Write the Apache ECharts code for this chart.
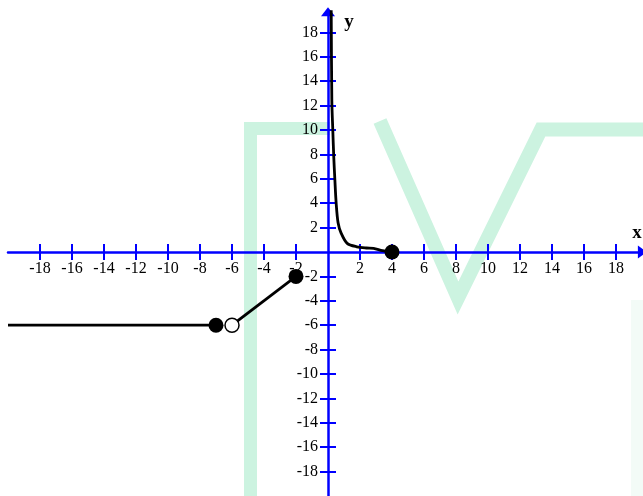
<!DOCTYPE html>
<html>
<head>
<meta charset="utf-8">
<script src="https://cdn.jsdelivr.net/npm/echarts@6/dist/echarts.min.js"></script>
<style>
html,body{margin:0;padding:0;background:#fff;}
#c{width:643px;height:496px;}
</style>
</head>
<body>
<div id="c"></div>
<script>
// ---- data ----
const xTicks = [-18,-16,-14,-12,-10,-8,-6,-4,-2,2,4,6,8,10,12,14,16,18];
const yTicks = [-18,-16,-14,-12,-10,-8,-6,-4,-2,2,4,6,8,10,12,14,16,18];
const horizSeg = [[-20,-6],[-7,-6]];
const slantSeg = [[-6,-6],[-2,-2]];
const curvePts = [[0.2,20],[0.24,12.4],[0.3,10],[0.36,7.8],[0.43,5.9],[0.51,4.0],[0.63,2.4],[0.82,1.55],[1.2,0.71],[1.8,0.43],[2.4,0.33],[2.85,0.3],[3.4,0.12],[4,0]];
const closedDots = [[-7,-6],[-2,-2],[4,0]];
const openDots = [[-6,-6]];

const FONT = "'Liberation Serif','Times New Roman',serif";
const BLUE = '#0000ff';
const WM = '#ccf3e0';

// layout
const W = 643, H = 496;
const G = {left:8, right:0.6, top:11.7, bottom:0};
const X_MIN = -20, X_MAX = 19.65, Y_MIN = -20, Y_MAX = 19.7;
const gw = W - G.left - G.right, gh = H - G.top - G.bottom;
const x0 = G.left + (0 - X_MIN) / (X_MAX - X_MIN) * gw;   // pixel of x = 0
const y0 = G.top + (Y_MAX - 0) / (Y_MAX - Y_MIN) * gh;    // pixel of y = 0

const chart = echarts.init(document.getElementById('c'), null, {renderer:'canvas'});

function labelFmt(list){
  return function(v){
    const r = Math.round(v);
    return list.indexOf(r) >= 0 && Math.abs(v - r) < 1e-6 ? String(r) : '';
  };
}

function xAxisCfg(main){
  return {
    type:'value', min:X_MIN, max:X_MAX, interval:2, gridIndex:0,
    position: main ? 'bottom' : 'top',
    offset: main ? -(H - G.bottom - y0) : -(y0 - G.top),
    axisLine:{show:main, onZero:false, lineStyle:{color:BLUE,width:2.5},
      symbol:['none','triangle'], symbolSize:[13,9]},
    axisTick:{show:true, inside:false, length:8, customValues:xTicks, lineStyle:{color:BLUE,width:2}},
    axisLabel:{show:main, margin:9, color:'#000', fontFamily:FONT, fontSize:16,
      showMinLabel:false, showMaxLabel:false, hideOverlap:false, formatter:labelFmt(xTicks)},
    splitLine:{show:false}
  };
}
function yAxisCfg(main){
  return {
    type:'value', min:Y_MIN, max:Y_MAX, interval:2, gridIndex:0,
    position: main ? 'left' : 'right',
    offset: main ? -(x0 - G.left) : -(W - G.right - x0),
    axisLine:{show:main, onZero:false, lineStyle:{color:BLUE,width:2.5},
      symbol:['none','triangle'], symbolSize:[14,9]},
    axisTick:{show:true, inside:false, length:8, customValues:yTicks, lineStyle:{color:BLUE,width:2}},
    axisLabel:{show:main, margin:10, color:'#000', fontFamily:FONT, fontSize:16,
      showMinLabel:false, showMaxLabel:false, hideOverlap:false, formatter:labelFmt(yTicks)},
    splitLine:{show:false}
  };
}

const lineStyle = {color:'#000', width:2.8};

chart.setOption({
  animation:false,
  backgroundColor:'#fff',
  grid:{left:G.left, right:G.right, top:G.top, bottom:G.bottom, containLabel:false, outerBoundsMode:'none'},
  xAxis:[xAxisCfg(true), xAxisCfg(false)],
  yAxis:[yAxisCfg(true), yAxisCfg(false)],
  graphic:[
    {type:'polyline', z:-10, silent:true, shape:{points:[[250.5,500],[250.5,128.5],[330,128.5]]},
      style:{stroke:WM, lineWidth:13, fill:null, lineJoin:'miter'}},
    {type:'polyline', z:-10, silent:true, shape:{points:[[380,121],[458,298],[541,129.5],[660,129.5]]},
      style:{stroke:WM, lineWidth:14, fill:null, lineJoin:'miter', miterLimit:10}},
    {type:'polyline', z:-10, silent:true, shape:{points:[[637,300],[637,500]]},
      style:{stroke:'#f3fbf7', lineWidth:12, fill:null}},
    {type:'text', z:50, style:{text:'x', x:637, y:233, fontFamily:FONT, fontSize:19, fontWeight:'bold', fill:'#000', align:'center', verticalAlign:'middle'}},
    {type:'text', z:50, style:{text:'y', x:349, y:22, fontFamily:FONT, fontSize:19, fontWeight:'bold', fill:'#000', align:'center', verticalAlign:'middle'}}
  ],
  series:[
    {type:'line', data:horizSeg, showSymbol:false, symbol:'none', lineStyle:lineStyle, z:3},
    {type:'line', data:slantSeg, showSymbol:false, symbol:'none', lineStyle:lineStyle, z:3},
    {type:'line', data:curvePts, showSymbol:false, symbol:'none', smooth:0.3, lineStyle:lineStyle, z:3},
    {type:'scatter', data:closedDots, symbol:'circle', symbolSize:15, itemStyle:{color:'#000', opacity:1}, z:5},
    {type:'scatter', data:openDots, symbol:'circle', symbolSize:14, itemStyle:{color:'#fff', borderColor:'#000', borderWidth:1.5, opacity:1}, z:5}
  ]
});
</script>
</body>
</html>
